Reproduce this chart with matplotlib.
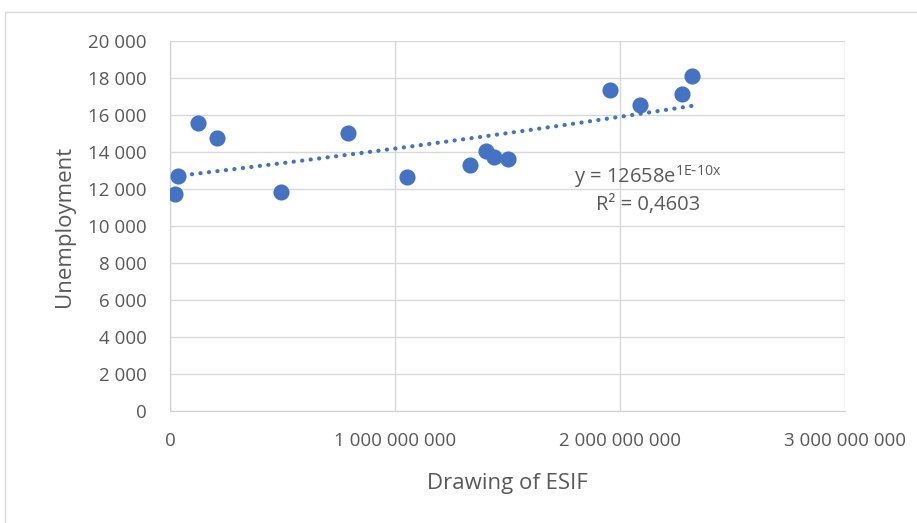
import numpy as np
import matplotlib
matplotlib.use("Agg")
import matplotlib.pyplot as plt
from matplotlib.ticker import FuncFormatter
from matplotlib.patches import Rectangle

drawing_esif = [22e6, 36e6, 124e6, 209e6, 493e6, 791e6, 1053e6, 1333e6, 1404e6,
                1440e6, 1502e6, 1956e6, 2089e6, 2276e6, 2320e6]
unemployment = [11730, 12700, 15570, 14760, 11840, 15030, 12650, 13300, 14050,
                13730, 13620, 17350, 16540, 17135, 18100]
x_ticks = [0, 1e9, 2e9, 3e9]
y_ticks = list(range(0, 20001, 2000))

plt.rcParams['font.family'] = ['Open Sans', 'DejaVu Sans']
gray = '#595959'
blue = '#4472C4'

fig = plt.figure(figsize=(9.17, 5.23), dpi=100)
fig.patches.append(Rectangle((5/917, -0.1), 1.2, 1 - 12/523 + 0.1, transform=fig.transFigure,
                             fill=False, edgecolor='#d9d9d9', linewidth=1))
ax = fig.add_axes([170/917, 1 - 411/523, (845-170)/917, (411-41)/523])

x = np.array(drawing_esif)
y = np.array(unemployment)
b, lna = np.polyfit(x, np.log(y), 1)
xs = np.linspace(x.min(), x.max(), 200)
ax.plot(xs, np.exp(lna) * np.exp(b * xs), linestyle=(0, (0.05, 2.0)), color=blue, linewidth=3,
        dash_capstyle='round', zorder=2)
ax.scatter(x, y, s=135, color=blue, zorder=3, linewidths=0)

ax.set_xlim(0, 3e9)
ax.set_ylim(0, 20000)
ax.set_xticks(x_ticks)
ax.set_yticks(y_ticks)
fmt = FuncFormatter(lambda v, p: f"{int(round(v)):,}".replace(",", " "))
ax.xaxis.set_major_formatter(fmt)
ax.yaxis.set_major_formatter(fmt)
ax.grid(True, color='#d9d9d9', linewidth=1)
ax.set_axisbelow(True)
for s in ['top', 'right']:
    ax.spines[s].set_visible(False)
for s in ['left', 'bottom']:
    ax.spines[s].set_color('#d0d0d0')
ax.tick_params(axis='both', length=0, colors=gray, labelsize=13.5)
ax.tick_params(axis='x', pad=15)
ax.tick_params(axis='y', pad=17)
ax.set_xlabel("Drawing of ESIF", color=gray, fontsize=16, labelpad=17)
ax.set_ylabel("Unemployment", color=gray, fontsize=16, labelpad=9)

ax.text(2.124e9, 12650, "y = 12658e$^{\\mathregular{1E\\text{-}10x}}$", ha='center', va='center',
        color=gray, fontsize=14.5)
ax.text(2.124e9, 11130, "R² = 0,4603", ha='center', va='center', color=gray, fontsize=14.5)

fig.savefig("out.png", dpi=100)
